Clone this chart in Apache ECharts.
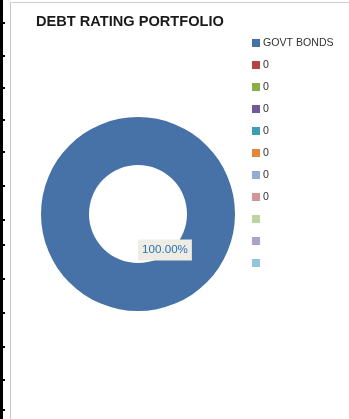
<!DOCTYPE html>
<html>
<head>
<meta charset="utf-8">
<script src="https://cdn.jsdelivr.net/npm/echarts@6/dist/echarts.min.js"></script>
<style>
  html, body { margin: 0; padding: 0; background: #ffffff; }
  #chart { width: 349px; height: 419px; }
</style>
</head>
<body>
<div id="chart"></div>
<script>
// Portfolio breakdown by debt rating
const ratingLabels = ['GOVT BONDS', '0', '0', '0', '0', '0', '0', '0', '', '', ''];
const ratingValues = [100, 0, 0, 0, 0, 0, 0, 0, 0, 0, 0];
const sliceColors = ['#4672A8', '#B5443F', '#8BAD4B', '#715896', '#3E9CB4', '#E5873A',
                     '#95ABD4', '#D59594', '#BDD59C', '#AFA2C8', '#94C6D7'];

// Worksheet-style frame decorations (row ruler on the left, chart border)
const rulerTicks = [23, 56, 88, 120, 152, 186, 220, 245, 279, 313, 347, 380, 410];

const total = ratingValues.reduce((a, b) => a + b, 0);

const pieData = ratingValues.map((v, i) => ({
  name: 'r' + i,
  value: v,
  itemStyle: { color: sliceColors[i] },
  label: { show: i === 0 }
}));

const graphics = [
  { type: 'rect', shape: { x: 0, y: 0, width: 3, height: 419 }, style: { fill: '#000' }, silent: true },
  { type: 'line', shape: { x1: 10.5, y1: 2, x2: 10.5, y2: 419 }, style: { stroke: '#c4c4c4', lineWidth: 1 }, silent: true },
  { type: 'line', shape: { x1: 10, y1: 2.5, x2: 349, y2: 2.5 }, style: { stroke: '#d0d0d0', lineWidth: 1 }, silent: true }
];
rulerTicks.forEach(t => {
  graphics.push({ type: 'rect', shape: { x: 0, y: t - 1, width: 5, height: 2 }, style: { fill: '#000' }, silent: true });
});

const chart = echarts.init(document.getElementById('chart'), null, { renderer: 'canvas' });
chart.setOption({
  animation: false,
  backgroundColor: '#ffffff',
  title: {
    text: 'DEBT RATING PORTFOLIO',
    left: 31,
    top: 9,
    textStyle: { fontFamily: 'Liberation Sans', fontWeight: 'bold', fontSize: 14.6, color: '#1a1a1a' }
  },
  legend: {
    orient: 'vertical',
    left: 247,
    top: 32,
    itemWidth: 8,
    itemHeight: 8,
    itemGap: 10,
    icon: 'rect',
    selectedMode: false,
    data: pieData.map(d => d.name),
    formatter: name => ratingLabels[Number(name.slice(1))] || '\u00a0',
    textStyle: { fontFamily: 'Liberation Sans', fontSize: 10.6, color: '#333333', lineHeight: 12, padding: [0, 0, 0, -2] }
  },
  graphic: graphics,
  series: [{
    type: 'pie',
    center: [138, 214],
    radius: [49, 97],
    startAngle: 90,
    clockwise: true,
    avoidLabelOverlap: false,
    silent: true,
    data: pieData,
    label: {
      position: 'center',
      offset: [27, 36],
      formatter: p => (p.value / total * 100).toFixed(2) + '%',
      fontFamily: 'Liberation Sans',
      fontSize: 11.6,
      color: '#2A72B8',
      backgroundColor: '#EFEDE3',
      padding: [5, 4, 4, 4]
    },
    labelLine: { show: false },
    itemStyle: { borderWidth: 0 }
  }]
});
</script>
</body>
</html>
